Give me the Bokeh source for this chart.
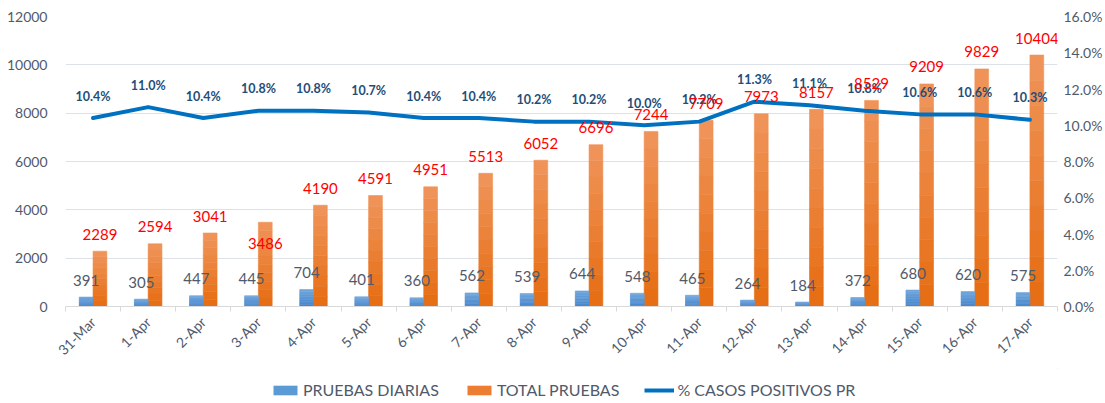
import math
from bokeh.plotting import figure
from bokeh.layouts import column
from bokeh.models import (ColumnDataSource, Range1d, LinearAxis, FixedTicker,
                          NumeralTickFormatter, Legend, LegendItem)
from bokeh.transform import dodge
from bokeh.core.properties import value
from bokeh.embed import file_html
from bokeh.resources import INLINE

# ---------------- data ----------------
dates = ["31-Mar", "1-Apr", "2-Apr", "3-Apr", "4-Apr", "5-Apr", "6-Apr", "7-Apr",
         "8-Apr", "9-Apr", "10-Apr", "11-Apr", "12-Apr", "13-Apr", "14-Apr",
         "15-Apr", "16-Apr", "17-Apr"]
pruebas_diarias = [391, 305, 447, 445, 704, 401, 360, 562, 539, 644, 548, 465,
                   264, 184, 372, 680, 620, 575]
total_pruebas = [2289, 2594, 3041, 3486, 4190, 4591, 4951, 5513, 6052, 6696,
                 7244, 7709, 7973, 8157, 8529, 9209, 9829, 10404]
pct_positivos = [10.4, 11.0, 10.4, 10.8, 10.8, 10.7, 10.4, 10.4, 10.2, 10.2,
                 10.0, 10.2, 11.3, 11.1, 10.8, 10.6, 10.6, 10.3]
left_ticks = [0, 2000, 4000, 6000, 8000, 10000, 12000]
right_ticks = [0.0, 0.02, 0.04, 0.06, 0.08, 0.10, 0.12, 0.14, 0.16]
series_names = ["PRUEBAS DIARIAS", "TOTAL PRUEBAS", "% CASOS POSITIVOS PR"]

# label placement (styling, screen px)
total_label_dy = [-17] * len(dates)
total_label_dy[3] = 21

FONT = "Lato"
GRAY = "#505a6b"
BLUE_LINE = "#0070c0"

n = len(dates)
xs = list(range(n))

src = ColumnDataSource(dict(
    x=xs,
    daily=pruebas_diarias,
    total=total_pruebas,
    pct=[v / 100.0 for v in pct_positivos],
    daily_txt=[str(v) for v in pruebas_diarias],
    total_txt=[str(v) for v in total_pruebas],
    pct_txt=["%.1f%%" % v for v in pct_positivos],
    total_dy=total_label_dy,
))

p = figure(width=1105, height=368, output_backend="svg", toolbar_location=None,
           x_range=Range1d(-0.5, n - 0.5), y_range=Range1d(0, 12000),
           min_border_left=65, min_border_right=47, min_border_top=16,
           min_border_bottom=62)
p.outline_line_color = None
p.background_fill_color = "white"
p.border_fill_color = "white"
p.extra_y_ranges = {"pct": Range1d(0, 0.16)}

# ---------- gradient bars (stacked slices of each bar) ----------
def lerp(c1, c2, t):
    a = [int(c1[i:i + 2], 16) for i in (1, 3, 5)]
    b = [int(c2[i:i + 2], 16) for i in (1, 3, 5)]
    return "#%02x%02x%02x" % tuple(round(a[j] + (b[j] - a[j]) * t) for j in range(3))

NSEG = 10
blue_bot, blue_top = "#4585cb", "#72a7dc"
orng_bot, orng_top = "#e56c10", "#f0955c"
for k in range(NSEG):
    t = (k + 0.5) / NSEG
    seg = ColumnDataSource(dict(
        x=xs,
        db=[v * k / NSEG for v in pruebas_diarias],
        dt=[v * (k + 1) / NSEG for v in pruebas_diarias],
        tb=[v * k / NSEG for v in total_pruebas],
        tt=[v * (k + 1) / NSEG for v in total_pruebas],
    ))
    cb = lerp(blue_bot, blue_top, t)
    co = lerp(orng_bot, orng_top, t)
    p.vbar(x=dodge("x", -0.125, range=p.x_range), bottom="db", top="dt",
           width=0.25, source=seg, fill_color=cb, line_color=cb, line_width=0.6)
    p.vbar(x=dodge("x", 0.125, range=p.x_range), bottom="tb", top="tt",
           width=0.25, source=seg, fill_color=co, line_color=co, line_width=0.6)

# ---------- line ----------
p.line(x="x", y="pct", source=src, y_range_name="pct",
       line_color=BLUE_LINE, line_width=4, line_join="round", line_cap="round")

# ---------- labels ----------
p.text(x=dodge("x", -0.125, range=p.x_range), y="daily", text="daily_txt", source=src,
       text_align="center", text_baseline="middle", y_offset=-17,
       text_font=value(FONT), text_font_size="15px", text_color=GRAY)
p.text(x="x", y="pct", text="pct_txt", source=src, y_range_name="pct",
       text_align="center", text_baseline="middle", y_offset=-22,
       text_font=value(FONT), text_font_size="12.5px", text_font_style="bold",
       text_color="#1f4e79")
p.text(x=dodge("x", 0.125, range=p.x_range), y="total", text="total_txt", source=src,
       text_align="center", text_baseline="middle", y_offset="total_dy",
       text_font=value(FONT), text_font_size="15px", text_color="#ff0000")

# ---------- axes ----------
xa = p.xaxis[0]
xa.ticker = FixedTicker(ticks=xs, minor_ticks=[i - 0.5 for i in range(n + 1)])
xa.major_label_overrides = {i: d for i, d in enumerate(dates)}
xa.major_label_orientation = math.pi / 4
xa.major_label_text_font = FONT
xa.major_label_text_font_size = "14px"
xa.major_label_text_color = GRAY
xa.major_tick_line_color = None
xa.minor_tick_in = 0
xa.minor_tick_out = 5
xa.minor_tick_line_color = "#d9d9d9"
xa.axis_line_color = "#d9d9d9"
xa.major_label_standoff = 7

ya = p.yaxis[0]
ya.ticker = FixedTicker(ticks=left_ticks)
ya.major_label_text_font = FONT
ya.major_label_text_font_size = "14px"
ya.major_label_text_color = GRAY
ya.axis_line_color = None
ya.major_tick_line_color = None
ya.minor_tick_line_color = None
ya.major_label_standoff = 12

ra = LinearAxis(y_range_name="pct", ticker=FixedTicker(ticks=right_ticks),
                formatter=NumeralTickFormatter(format="0.0%"))
ra.major_label_text_font = FONT
ra.major_label_text_font_size = "14px"
ra.major_label_text_color = GRAY
ra.axis_line_color = None
ra.major_tick_line_color = None
ra.minor_tick_line_color = None
ra.major_label_standoff = 0
p.add_layout(ra, "right")

p.xgrid.grid_line_color = None
p.ygrid.grid_line_color = "#dde2e8"
p.ygrid.ticker = FixedTicker(ticks=left_ticks)

# ---------- legend strip ----------
lf = figure(width=1105, height=35, output_backend="svg", toolbar_location=None,
            x_range=Range1d(0, 1), y_range=Range1d(0, 1),
            x_axis_location=None, y_axis_location=None,
            min_border=0, min_border_left=0, min_border_right=0,
            min_border_top=0, min_border_bottom=0)
lf.grid.visible = False
lf.outline_line_color = None
lf.background_fill_color = "white"
lf.border_fill_color = "white"
# legend-only renderers, positioned outside the visible range
rb = lf.vbar(x=[5], top=[5], bottom=[4], width=0.1, fill_color="#5b9bd5", line_color=None)
ro = lf.vbar(x=[5], top=[5], bottom=[4], width=0.1, fill_color="#ed7d31", line_color=None)
rl = lf.line(x=[5, 6], y=[5, 5], line_color=BLUE_LINE, line_width=4)

legend = Legend(items=[
    LegendItem(label=series_names[0], renderers=[rb]),
    LegendItem(label=series_names[1], renderers=[ro]),
    LegendItem(label=series_names[2], renderers=[rl]),
], orientation="horizontal", location=(205, 4))
legend.label_text_font = FONT
legend.label_text_font_size = "16px"
legend.label_text_color = GRAY
legend.glyph_width = 30
legend.glyph_height = 12
legend.label_standoff = 3
legend.spacing = 25
legend.padding = 0
legend.margin = 0
legend.border_line_color = None
legend.background_fill_alpha = 0
lf.add_layout(legend, "center")

layout = column(p, lf, spacing=0)
open("out.html", "w").write(file_html(layout, INLINE))
